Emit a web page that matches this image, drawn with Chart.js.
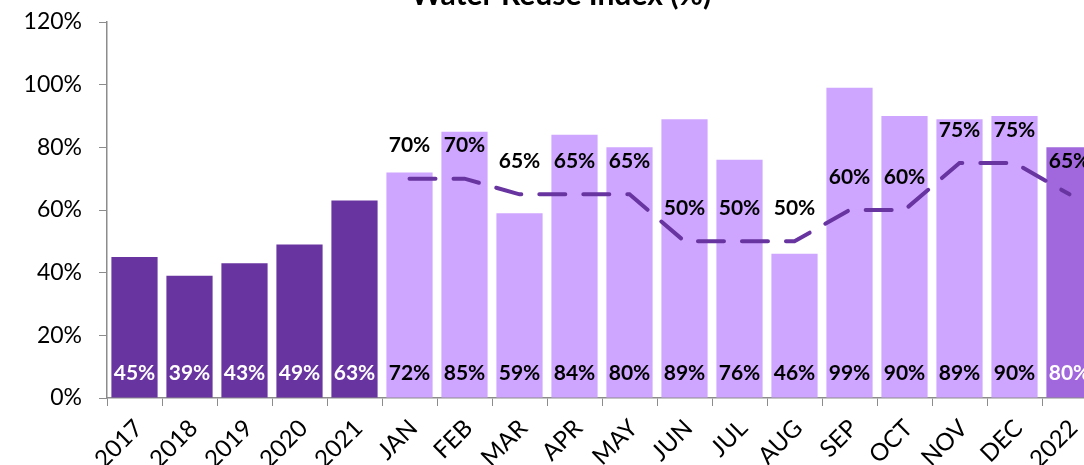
<!DOCTYPE html>
<html lang="en">
<head>
    <meta charset="UTF-8">
    <title>Water Reuse Index (%)</title>
    <script src="https://cdn.jsdelivr.net/npm/chart.js@4.4.1/dist/chart.umd.min.js"></script>
    <style>
        body {
            margin: 0;
            overflow: hidden;
            background: #fff;
            font-family: Lato, Arial, sans-serif;
        }
        #chart {
            display: block;
        }
    </style>
</head>
<body>
    <canvas id="chart" width="1100" height="465"></canvas>

    <script>
        const categories = ['2017', '2018', '2019', '2020', '2021', 'JAN', 'FEB', 'MAR', 'APR', 'MAY', 'JUN',
            'JUL', 'AUG', 'SEP', 'OCT', 'NOV', 'DEC', '2022'];
        const reuseIndex = [45, 39, 43, 49, 63, 72, 85, 59, 84, 80, 89, 76, 46, 99, 90, 89, 90, 80];
        const target = [null, null, null, null, null, 70, 70, 65, 65, 65, 50, 50, 50, 60, 60, 75, 75, 65];
        const currentYear = '2022';

        const FONT = 'Lato, "Open Sans", Arial, sans-serif';
        const YEAR_COLOR = '#6834A0';
        const MONTH_COLOR = '#CFA6FF';
        const CURRENT_COLOR = '#A068DC';
        const AXIS_COLOR = '#8c8c8c';

        const isYear = c => /^\d{4}$/.test(c);
        const barColors = categories.map(c => c === currentYear ? CURRENT_COLOR : (isYear(c) ? YEAR_COLOR : MONTH_COLOR));
        const barLabelColors = categories.map(c => isYear(c) ? '#ffffff' : '#000000');

        // value labels + cropped title
        const labelsPlugin = {
            id: 'labels',
            afterDatasetsDraw(chart) {
                const ctx = chart.ctx;
                const bottom = chart.scales.y.bottom;
                ctx.save();
                ctx.font = 'bold 21px ' + FONT;
                ctx.textAlign = 'center';
                ctx.textBaseline = 'middle';

                chart.getDatasetMeta(0).data.forEach((bar, i) => {
                    ctx.fillStyle = barLabelColors[i];
                    ctx.fillText(reuseIndex[i] + '%', bar.x, bottom - 25);
                });

                ctx.fillStyle = '#000';
                chart.getDatasetMeta(1).data.forEach((pt, i) => {
                    if (target[i] === null) return;
                    ctx.fillText(target[i] + '%', pt.x, pt.y - 33);
                });

                ctx.font = 'bold 30px ' + FONT;
                ctx.textBaseline = 'alphabetic';
                ctx.fillText('Water Reuse Index (%)', 561, 5);
                ctx.restore();
            }
        };

        new Chart(document.getElementById('chart'), {
            data: {
                labels: categories,
                datasets: [
                    {
                        type: 'bar',
                        label: 'Water Reuse Index',
                        data: reuseIndex,
                        backgroundColor: barColors,
                        barPercentage: 0.84,
                        categoryPercentage: 1.0,
                        order: 2
                    },
                    {
                        type: 'line',
                        label: 'Target',
                        data: target,
                        borderColor: YEAR_COLOR,
                        borderWidth: 4,
                        borderDash: [26, 18],
                        borderCapStyle: 'round',
                        pointRadius: 0,
                        tension: 0,
                        fill: false,
                        order: 1
                    }
                ]
            },
            options: {
                responsive: false,
                animation: false,
                layout: {
                    padding: { top: 22, right: 3, bottom: 0, left: 0 }
                },
                plugins: {
                    legend: { display: false },
                    tooltip: { enabled: false },
                    title: { display: false }
                },
                scales: {
                    x: {
                        grid: {
                            drawOnChartArea: false,
                            tickLength: 8,
                            color: AXIS_COLOR
                        },
                        border: { color: AXIS_COLOR, width: 1.5 },
                        ticks: {
                            autoSkip: false,
                            minRotation: 45,
                            maxRotation: 45,
                            padding: 8,
                            labelOffset: 4,
                            color: '#000',
                            font: { family: FONT, size: 24 }
                        },
                        afterFit(scale) {
                            scale.height = 67;
                        }
                    },
                    y: {
                        min: 0,
                        max: 120,
                        grid: {
                            drawOnChartArea: false,
                            tickLength: 8,
                            color: AXIS_COLOR
                        },
                        border: { color: AXIS_COLOR, width: 1.5 },
                        ticks: {
                            stepSize: 20,
                            padding: 17,
                            color: '#000',
                            font: { family: FONT, size: 23 },
                            callback: v => v + '%'
                        },
                        afterFit(scale) {
                            scale.width = 107;
                            scale.paddingTop = 0;
                            scale.paddingBottom = 0;
                        }
                    }
                }
            },
            plugins: [labelsPlugin]
        });
    </script>
</body>
</html>
